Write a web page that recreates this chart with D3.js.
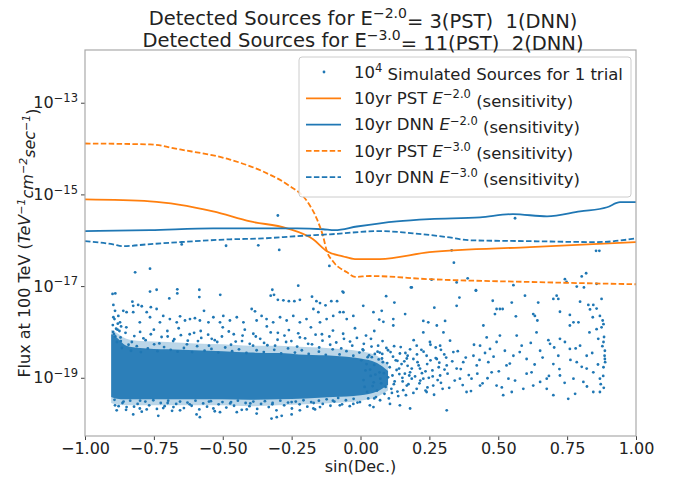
<!DOCTYPE html>
<html>
<head>
<meta charset="utf-8">
<script src="https://cdn.jsdelivr.net/npm/d3@7"></script>
<style>
  body { margin: 0; background: #fff; }
  text { font-family: "DejaVu Sans", sans-serif; fill: #222; }
</style>
</head>
<body>
<svg id="chart" width="684" height="481"></svg>
<script>
// sensitivity curves: sin(Dec.) and log10(flux)
var pst2X = [-1.0, -0.764, -0.535, -0.40, -0.267, -0.172, -0.122, -0.064, -0.02, 0.07, 0.25, 0.615, 1.0];
var pst2Y = [-15.11, -15.15, -15.37, -15.59, -15.74, -15.98, -16.24, -16.35, -16.41, -16.41, -16.26, -16.15, -16.04];

var pst3X = [-1.0, -0.764, -0.655, -0.474, -0.354, -0.267, -0.194, -0.158, -0.136, -0.122, -0.10, -0.049, -0.02, 0.034, 0.252, 0.615, 1.0];
var pst3Y = [-13.89, -13.91, -14.02, -14.24, -14.50, -14.78, -15.15, -15.54, -15.91, -16.24, -16.46, -16.70, -16.80, -16.78, -16.85, -16.91, -16.96];

var dnn2X = [-1.0, -0.764, -0.535, -0.354, -0.23, -0.136, -0.093, -0.013, 0.071, 0.132, 0.252, 0.434, 0.553, 0.677, 0.797, 0.895, 0.942, 1.0];
var dnn2Y = [-15.80, -15.78, -15.74, -15.74, -15.74, -15.76, -15.78, -15.70, -15.63, -15.59, -15.54, -15.50, -15.43, -15.48, -15.37, -15.28, -15.17, -15.17];

var dnn3X = [-1.0, -0.898, -0.862, -0.775, -0.655, -0.474, -0.354, -0.23, -0.111, 0.071, 0.191, 0.314, 0.397, 0.615, 0.858, 1.0];
var dnn3Y = [-16.02, -16.09, -16.13, -16.09, -16.04, -15.98, -15.96, -15.91, -15.87, -15.80, -15.85, -15.93, -16.00, -16.02, -16.04, -15.96];

// dense core of the simulated sources (log10 flux band), inner and outer density
var coreX = [-0.905, -0.89, -0.85, -0.8, -0.7, -0.6, -0.5, -0.4, -0.3, -0.2, -0.1, 0.0, 0.06, 0.1];
var coreTop = [-18.05, -18.1, -18.3, -18.35, -18.38, -18.4, -18.42, -18.45, -18.46, -18.5, -18.52, -18.58, -18.68, -18.85];
var coreBottom = [-19.42, -19.45, -19.47, -19.47, -19.47, -19.47, -19.47, -19.48, -19.47, -19.45, -19.42, -19.38, -19.3, -19.15];
var outerTop = [-17.95, -18.0, -18.15, -18.2, -18.22, -18.25, -18.27, -18.3, -18.3, -18.33, -18.36, -18.42, -18.52, -18.7];
var outerBottom = [-19.55, -19.58, -19.6, -19.6, -19.6, -19.6, -19.6, -19.62, -19.6, -19.58, -19.55, -19.5, -19.42, -19.28];

// individual simulated sources [sin(Dec.), log10 flux]
var sources = [
  [-0.30,-15.46],[-0.649,-16.09],[-0.488,-16.12],[-0.371,-16.11],[-0.295,-16.21],[-0.818,-16.70],[-0.764,-16.62],[-0.113,-16.56],[-0.065,-17.12],[-0.226,-16.99],
  [-0.764,-17.12],[-0.74,-17.08],[-0.665,-17.07],[-0.665,-17.16],[-0.585,-17.08],[-0.585,-17.24],[-0.694,-17.27],[-0.509,-17.19],[-0.32,-17.08],[-0.326,-17.21],
  [-0.314,-17.19],[-0.30,-17.30],[-0.28,-17.31],[-0.26,-17.33],[-0.24,-17.33],[-0.22,-17.30],[-0.176,-17.23],[-0.16,-17.33],[-0.147,-17.37],[-0.127,-17.42],
  [-0.106,-17.33],[-0.085,-17.33],[-0.90,-17.17],[-0.89,-17.16],
  [0.561,-15.52],[0.331,-16.22],[0.339,-16.49],[0.855,-16.23],[0.867,-16.23],[0.186,-17.03],[0.258,-16.86],[0.349,-16.92],[0.389,-16.83],[0.419,-17.09],
  [0.555,-16.98],[0.742,-16.85],[0.748,-16.91],[0.785,-17.01],[0.811,-17.03],[0.803,-16.79],[0.819,-16.72],[0.857,-16.95],[0.093,-17.22],
  [-0.062,-17.14],[-0.062,-17.57],[0.010,-17.43],[0.047,-17.57],[0.123,-17.36],[0.183,-17.03],[0.077,-17.54],[0.162,-17.61],[0.068,-17.73],[0.083,-17.78],
  [0.119,-17.72],[0.119,-17.86],[0.228,-17.76],[0.246,-17.79],[0.268,-17.47],[0.349,-17.43],[0.359,-17.25],[0.307,-17.76],[0.277,-17.86],[0.419,-17.10],
  [0.480,-17.32],[0.494,-17.50],[0.506,-17.50],[0.516,-17.50],[0.488,-17.61],[0.549,-17.36],[0.597,-17.21],[0.564,-17.66],[0.627,-17.61],[0.633,-17.65],
  [0.642,-17.75],[0.645,-17.36],[0.700,-17.28],[0.712,-17.21],[0.718,-17.28],[0.724,-17.56],[0.797,-17.34],[0.827,-17.41],[0.845,-17.41],[0.875,-17.28],
  [0.833,-17.51],[0.857,-17.49],[0.760,-17.63],[0.760,-17.86],[0.773,-17.79],[0.791,-17.79],[0.869,-17.65],[0.879,-17.75],[0.882,-17.83],[0.875,-17.90],
  [0.843,-17.68],[0.857,-17.94],
  [0.639,-18.01],[0.682,-18.18],[0.688,-18.26],[0.652,-18.41],[0.700,-18.70],[0.724,-18.95],[0.700,-19.38],[0.773,-19.02],[0.785,-18.66],[0.821,-18.52],
  [0.797,-18.30],[0.831,-18.01],[0.863,-18.15],[0.882,-18.22],[0.887,-18.41],[0.887,-18.59],[0.882,-18.77],[0.869,-19.02],[0.869,-19.31],[0.845,-18.88],
  [0.821,-18.80],[0.809,-19.09],[0.779,-19.35],[0.760,-18.37],[0.742,-18.22],[0.724,-18.15],[0.718,-18.52],[0.676,-19.02],[0.652,-19.09],[0.621,-18.88],
  [0.603,-18.59],[0.585,-18.30],[0.567,-18.08],[0.555,-18.52],[0.530,-18.73],[0.537,-19.02],[0.549,-19.31],[0.518,-19.38],[0.494,-19.17],[0.476,-18.88],
  [0.464,-18.66],[0.470,-18.37],[0.494,-18.22],[0.506,-18.08],[0.458,-18.12],[0.446,-17.86],[0.434,-18.30],[0.410,-18.52],[0.422,-18.73],[0.403,-19.02],
  [0.434,-19.17],[0.385,-19.31],[0.361,-19.02],[0.349,-18.80],[0.373,-18.66],[0.337,-18.44],[0.325,-18.19],[0.301,-18.01],[0.289,-18.30],[0.277,-18.59],
  [0.313,-18.73],[0.289,-18.95],[0.264,-19.17],[0.240,-19.31],[0.228,-19.02],[0.216,-18.80],[0.240,-18.52],[0.252,-18.22],[0.228,-18.01],[0.204,-18.30],
  [0.192,-18.59],[0.180,-18.88],[0.168,-19.17],[0.204,-19.24],[0.180,-19.67],[0.313,-19.71],[0.143,-19.60],[0.107,-19.57],[0.071,-19.49],[0.034,-19.60],
  [-0.002,-19.53],[0.047,-19.64],[0.591,-19.24],[0.627,-19.17],[0.676,-19.24],[0.754,-19.46],[0.845,-19.31],
  [0.122,-18.31],[0.134,-18.63],[0.141,-18.92],[0.153,-19.08],[0.114,-19.33],[0.163,-18.46],[0.171,-18.74],[0.186,-19.02],[0.193,-18.18],[0.207,-18.66],
  [0.214,-19.12],[0.221,-18.39],[0.236,-18.86],[0.243,-19.21],[0.254,-18.62],[0.262,-18.97],[0.273,-18.34],[0.284,-18.77],[0.292,-19.11],[0.304,-18.49],
  [0.316,-18.91],[0.322,-19.22],[0.333,-18.64],[0.342,-19.06],[0.353,-18.42],[0.364,-18.81],[0.371,-19.16],[0.382,-18.56],[0.393,-18.94],[0.401,-19.29],
  [0.412,-18.28],[0.424,-18.91],[0.432,-18.61],[0.443,-19.12],[0.452,-18.46],[0.461,-19.01],[0.483,-18.54],[0.502,-18.86],[0.513,-19.21],[0.524,-18.41],
  [0.542,-18.69],[0.561,-19.06],[0.578,-18.44],[0.603,-18.91],[0.618,-18.24],[0.632,-18.71],[0.661,-18.56],[0.684,-18.96],[0.703,-18.34],[0.722,-18.81],
  [0.741,-19.11],[0.762,-18.61],[0.781,-18.36],[0.803,-18.76],[0.822,-19.19],[0.841,-18.46],[0.862,-18.71],[0.878,-18.31],[0.881,-18.96],[0.886,-18.52],
  [0.872,-19.14],[0.884,-18.11],[0.888,-18.66],[0.883,-19.22],
  [-0.897,-17.41],[-0.891,-17.54],[-0.897,-17.68],[-0.879,-17.65],[-0.861,-17.54],[-0.849,-17.57],[-0.873,-17.79],[-0.828,-17.34],[-0.825,-17.43],[-0.807,-17.41],
  [-0.794,-17.44],[-0.825,-17.57],[-0.776,-17.57],[-0.761,-17.46],[-0.764,-17.68],[-0.801,-17.79],[-0.740,-17.50],[-0.716,-17.65],[-0.728,-17.79],[-0.692,-17.72],
  [-0.667,-17.79],[-0.655,-17.66],[-0.637,-17.75],[-0.619,-17.72],[-0.601,-17.70],[-0.583,-17.75],[-0.568,-17.54],[-0.552,-17.79],[-0.534,-17.68],[-0.510,-17.79],
  [-0.498,-17.65],[-0.474,-17.75],[-0.449,-17.68],[-0.425,-17.79],[-0.395,-17.50],[-0.383,-17.55],[-0.377,-17.75],[-0.359,-17.65],[-0.341,-17.72],[-0.317,-17.79],
  [-0.292,-17.68],[-0.268,-17.75],[-0.244,-17.65],[-0.220,-17.79],[-0.196,-17.72],[-0.171,-17.50],[-0.153,-17.57],[-0.147,-17.79],[-0.123,-17.72],[-0.099,-17.65],
  [-0.075,-17.57],[-0.050,-17.72],[-0.026,-17.65],
  [-0.85,-17.9],[-0.80,-18.0],[-0.75,-17.95],[-0.70,-18.1],[-0.66,-17.92],[-0.62,-18.05],[-0.58,-17.98],[-0.54,-18.15],[-0.50,-17.9],[-0.46,-18.05],
  [-0.42,-17.95],[-0.38,-18.1],[-0.34,-17.88],[-0.30,-18.02],[-0.26,-17.96],[-0.22,-18.12],[-0.18,-17.9],[-0.14,-18.05],[-0.10,-17.97],[-0.06,-18.15],
  [-0.02,-17.92],[0.02,-18.08],[0.05,-17.98],[0.08,-18.2],
  [-0.87,-18.2],[-0.83,-18.22],[-0.78,-18.18],[-0.73,-18.25],[-0.68,-18.2],[-0.63,-18.27],[-0.59,-18.2],[-0.55,-18.3],[-0.52,-18.22],[-0.47,-18.28],
  [-0.43,-18.2],[-0.39,-18.3],[-0.35,-18.24],[-0.31,-18.3],[-0.27,-18.22],[-0.23,-18.32],[-0.19,-18.26],[-0.15,-18.34],[-0.11,-18.28],[-0.07,-18.36],
  [-0.03,-18.3],[0.01,-18.4],[0.04,-18.32],[0.07,-18.45],[0.10,-18.4],
  [-0.891,-19.60],[-0.885,-19.71],[-0.825,-19.80],[-0.734,-19.83],[-0.801,-19.67],[-0.776,-19.69],[-0.679,-19.64],[-0.595,-19.80],[-0.583,-19.86],[-0.655,-19.71],
  [-0.510,-19.75],[-0.449,-19.75],[-0.377,-19.78],[-0.323,-19.89],[-0.304,-19.86],[-0.286,-19.83],[-0.250,-19.80],[-0.220,-19.71],[-0.171,-19.67],[-0.147,-19.64],
  [-0.075,-19.60],[-0.026,-19.57],[-0.849,-19.64],[-0.716,-19.66],[-0.534,-19.67],[-0.413,-19.69],
  [-0.86,-19.52],[-0.7,-19.55],[-0.55,-19.52],[-0.4,-19.56],[-0.25,-19.53],[-0.1,-19.5],[0.05,-19.45],[-0.8,-19.5],[-0.62,-19.58],[-0.47,-19.53],
  [-0.32,-19.58],[-0.17,-19.55],
  // fringe above the dense core
  [-0.895,-18.05],[-0.882,-17.95],[-0.871,-18.12],[-0.866,-18.35],[-0.853,-18.02],[-0.842,-18.28],[-0.833,-18.41],[-0.821,-18.09],[-0.812,-18.31],[-0.797,-18.44],
  [-0.788,-18.14],[-0.772,-18.36],[-0.761,-18.05],[-0.749,-18.27],[-0.737,-18.42],[-0.722,-18.11],[-0.713,-18.33],[-0.701,-17.98],[-0.689,-18.39],[-0.676,-18.16],
  [-0.664,-18.43],[-0.652,-18.07],[-0.641,-18.35],[-0.627,-18.19],[-0.611,-18.44],[-0.604,-18.02],[-0.593,-18.31],[-0.578,-18.13],[-0.566,-18.41],[-0.553,-18.06],
  [-0.541,-18.37],[-0.529,-18.18],[-0.516,-18.45],[-0.503,-18.1],[-0.491,-18.34],[-0.478,-17.99],[-0.466,-18.42],[-0.453,-18.21],[-0.441,-18.38],[-0.428,-18.08],
  [-0.414,-18.46],[-0.402,-18.26],[-0.389,-18.04],[-0.377,-18.4],[-0.364,-18.15],[-0.351,-18.44],[-0.338,-18.29],[-0.326,-18.01],[-0.313,-18.39],[-0.301,-18.17],
  [-0.288,-18.47],[-0.276,-18.08],[-0.263,-18.36],[-0.251,-18.2],[-0.238,-18.45],[-0.226,-18.03],[-0.213,-18.4],[-0.201,-18.14],[-0.188,-18.48],[-0.176,-18.27],
  [-0.163,-18.06],[-0.151,-18.43],[-0.138,-18.19],[-0.126,-18.5],[-0.113,-18.1],[-0.101,-18.38],[-0.088,-18.23],[-0.076,-18.49],[-0.063,-18.04],[-0.051,-18.42],
  [-0.038,-18.21],[-0.026,-18.52],[-0.013,-18.13],[-0.004,-18.45],[0.012,-18.26],[0.026,-18.55],[0.038,-18.15],[0.052,-18.48],[0.064,-18.3],[0.078,-18.58],
  [-0.899,-17.85],[-0.893,-17.72],[-0.887,-17.93],[-0.881,-17.82],[-0.875,-17.98],[-0.869,-17.88],[-0.898,-18.0],[-0.89,-18.1],[-0.884,-18.22],
  // fringe below the dense core
  [-0.893,-19.48],[-0.878,-19.62],[-0.864,-19.55],[-0.851,-19.7],[-0.836,-19.5],[-0.822,-19.63],[-0.809,-19.57],[-0.794,-19.74],[-0.781,-19.52],[-0.767,-19.6],
  [-0.752,-19.49],[-0.739,-19.68],[-0.725,-19.55],[-0.711,-19.62],[-0.698,-19.5],[-0.684,-19.72],[-0.669,-19.57],[-0.655,-19.52],[-0.641,-19.66],[-0.628,-19.54],
  [-0.613,-19.61],[-0.599,-19.5],[-0.585,-19.69],[-0.571,-19.56],[-0.557,-19.63],[-0.543,-19.51],[-0.529,-19.73],[-0.515,-19.58],[-0.501,-19.53],[-0.487,-19.65],
  [-0.473,-19.56],[-0.459,-19.61],[-0.445,-19.5],[-0.431,-19.7],[-0.417,-19.55],[-0.403,-19.62],[-0.389,-19.52],[-0.375,-19.68],[-0.361,-19.57],[-0.347,-19.51],
  [-0.333,-19.64],[-0.319,-19.55],[-0.305,-19.71],[-0.291,-19.5],[-0.277,-19.6],[-0.263,-19.54],[-0.249,-19.67],[-0.235,-19.52],[-0.221,-19.58],[-0.207,-19.49],
  [-0.193,-19.63],[-0.179,-19.53],[-0.165,-19.69],[-0.151,-19.5],[-0.137,-19.57],[-0.123,-19.47],[-0.109,-19.61],[-0.095,-19.52],[-0.081,-19.44],[-0.067,-19.58],
  [-0.053,-19.49],[-0.039,-19.62],[-0.025,-19.46],[-0.011,-19.54],
  // tapering blob just north of the equator
  [0.003,-18.62],[0.011,-19.05],[0.018,-18.84],[0.024,-19.31],[0.031,-18.51],[0.037,-18.96],[0.044,-19.18],[0.05,-18.72],[0.056,-19.42],[0.062,-18.43],
  [0.069,-18.88],[0.075,-19.12],[0.081,-18.66],[0.087,-19.35],[0.094,-18.35],[0.1,-18.99],[0.106,-18.77],[0.112,-19.24],[0.118,-18.54],[0.124,-19.08],
  [0.131,-18.83],[0.137,-19.4],[0.143,-18.47],[0.149,-18.7],[0.155,-19.27],[0.161,-18.91],[0.168,-18.58],[0.174,-19.14],[0.18,-18.38],[0.186,-18.8],
  [0.192,-19.33],[0.198,-18.97],[0.205,-18.49],[0.211,-18.73],[0.217,-19.06],[0.223,-18.9],[0.229,-18.43],[0.236,-19.28],[0.242,-18.7],[0.248,-19.0],
  [0.254,-18.28],[0.261,-18.84],[0.267,-19.37],[0.273,-18.57],[0.28,-19.05],[0.286,-18.67],[0.292,-18.39],[0.298,-19.24],[0.305,-18.82],[0.311,-18.56],
  [0.008,-18.38],[0.015,-19.2],[0.022,-18.7],[0.028,-19.45],[0.035,-18.82],[0.041,-18.55],[0.048,-19.1],[0.054,-18.93],[0.06,-19.28],[0.066,-18.6],
  [0.072,-19.02],[0.079,-18.48],[0.085,-18.9],[0.091,-19.2],[0.097,-18.68],[0.103,-19.45],[0.109,-18.44],[0.116,-18.95],[0.121,-19.14],[0.128,-18.62],
  [0.134,-19.3],[0.14,-18.8],[0.146,-18.33],[0.152,-19.0],[0.159,-18.64],[0.165,-19.38],[0.171,-18.52],[0.177,-18.95]
];

var xTicks = [-1.0, -0.75, -0.5, -0.25, 0.0, 0.25, 0.5, 0.75, 1.0];
var yTickExps = [-19, -17, -15, -13];

var legendItems = [
  {label: "Simulated Sources for 1 trial", kind: "dot"},
  {label: "10yr PST", exp: "\u22122.0", color: "#ff7f0e", dash: null},
  {label: "10yr DNN", exp: "\u22122.0", color: "#1f77b4", dash: null},
  {label: "10yr PST", exp: "\u22123.0", color: "#ff7f0e", dash: "5.5,2.4"},
  {label: "10yr DNN", exp: "\u22123.0", color: "#1f77b4", dash: "5.5,2.4"}
];

var svg = d3.select("#chart");
var mLeft = 85, mRight = 636, mTop = 50, mBottom = 436;

var x = d3.scaleLinear().domain([-1, 1]).range([mLeft, mRight]);
var y = d3.scaleLog().domain([Math.pow(10, -20.27), Math.pow(10, -11.85)]).range([mBottom, mTop]);
var pw = function(e) { return Math.pow(10, e); };

svg.append("defs").append("clipPath").attr("id", "clip")
  .append("rect").attr("x", mLeft).attr("y", mTop).attr("width", mRight - mLeft).attr("height", mBottom - mTop);

var layer = svg.append("g").attr("clip-path", "url(#clip)");

// core bands: outer (lighter) then inner (dense)
function band(tops, bottoms, opacity) {
  var rows = coreX.map(function(d, i) { return {x: d, t: tops[i], b: bottoms[i]}; });
  layer.append("path")
    .datum(rows)
    .attr("fill", "#1f77b4")
    .attr("fill-opacity", opacity)
    .attr("d", d3.area().curve(d3.curveMonotoneX)
      .x(function(d) { return x(d.x); })
      .y0(function(d) { return y(pw(d.b)); })
      .y1(function(d) { return y(pw(d.t)); }));
}
band(outerTop, outerBottom, 0.3);
band(coreTop, coreBottom, 0.92);

layer.selectAll("circle.src").data(sources).enter().append("circle")
  .attr("class", "src")
  .attr("cx", function(d) { return x(d[0]); })
  .attr("cy", function(d) { return y(pw(d[1])); })
  .attr("r", 1.4)
  .attr("fill", "#1f77b4");

function curve(xs, ys, color, dash) {
  var pts = xs.map(function(d, i) { return [d, ys[i]]; });
  layer.append("path")
    .datum(pts)
    .attr("fill", "none")
    .attr("stroke", color)
    .attr("stroke-width", 1.8)
    .attr("stroke-dasharray", dash)
    .attr("d", d3.line().curve(d3.curveMonotoneX)
      .x(function(d) { return x(d[0]); })
      .y(function(d) { return y(pw(d[1])); }));
}
curve(pst2X, pst2Y, "#ff7f0e", null);
curve(dnn2X, dnn2Y, "#1f77b4", null);
curve(pst3X, pst3Y, "#ff7f0e", "5.5,2.4");
curve(dnn3X, dnn3Y, "#1f77b4", "5.5,2.4");

// axes
var xAxis = svg.append("g").attr("transform", "translate(0," + mBottom + ")")
  .call(d3.axisBottom(x).tickValues(xTicks).tickSize(4).tickPadding(3)
    .tickFormat(function(d) { return d3.format(".2f")(d).replace("-", "\u2212"); }));
xAxis.selectAll("text").style("font-size", "16px").style("font-family", "DejaVu Sans").attr("fill", "#222");

var yAxis = svg.append("g").attr("transform", "translate(" + mLeft + ",0)")
  .call(d3.axisLeft(y).tickValues(yTickExps.map(pw)).tickSize(4).tickPadding(4).tickFormat(""));
yAxis.selectAll(".tick").each(function(d) {
  var e = Math.round(Math.log10(d));
  var t = d3.select(this).append("text").attr("x", -7).attr("dy", "0.32em")
    .attr("text-anchor", "end").style("font-size", "16px").attr("fill", "#222");
  t.append("tspan").text("10");
  t.append("tspan").attr("dy", "-0.55em").style("font-size", "11.5px").text("\u2212" + Math.abs(e));
});
svg.selectAll(".domain").remove();
svg.selectAll(".tick line").attr("stroke", "#444");

svg.append("rect").attr("x", mLeft).attr("y", mTop).attr("width", mRight - mLeft).attr("height", mBottom - mTop)
  .attr("fill", "none").attr("stroke", "#aaa").attr("stroke-width", 1.2);

// labels
svg.append("text").attr("x", (mLeft + mRight) / 2).attr("y", 472).attr("text-anchor", "middle")
  .style("font-size", "16px").text("sin(Dec.)");

var yl = svg.append("text").attr("transform", "translate(30," + ((mTop + mBottom) / 2) + ") rotate(-90)")
  .attr("text-anchor", "middle").style("font-size", "16px");
yl.append("tspan").text("Flux at 100 TeV (");
yl.append("tspan").style("font-style", "italic").text("TeV");
yl.append("tspan").attr("dy", "-0.5em").style("font-size", "11px").style("font-style", "italic").text("\u22121");
yl.append("tspan").attr("dy", "0.5em").style("font-style", "italic").text("cm");
yl.append("tspan").attr("dy", "-0.5em").style("font-size", "11px").style("font-style", "italic").text("\u22122");
yl.append("tspan").attr("dy", "0.5em").style("font-style", "italic").text("sec");
yl.append("tspan").attr("dy", "-0.5em").style("font-size", "11px").style("font-style", "italic").text("\u22121");
yl.append("tspan").attr("dy", "0.5em").text(")");

// title
var titles = [["\u22122.0", "= 3(PST)  1(DNN)"], ["\u22123.0", "= 11(PST)  2(DNN)"]];
titles.forEach(function(t, i) {
  var tt = svg.append("text").attr("x", 363).attr("y", 25 + i * 22).attr("text-anchor", "middle")
    .style("font-size", "19.5px").attr("xml:space", "preserve");
  tt.append("tspan").text("Detected Sources for E");
  tt.append("tspan").attr("dy", "-0.5em").style("font-size", "14px").text(t[0]);
  tt.append("tspan").attr("dy", "0.5em").text(t[1]);
});

// legend
var lg = svg.append("g");
lg.append("rect").attr("x", 299).attr("y", 57).attr("width", 332).attr("height", 140).attr("rx", 3)
  .attr("fill", "#fff").attr("fill-opacity", 0.85).attr("stroke", "#ccc");
legendItems.forEach(function(d, i) {
  var cy = 72 + i * 26.3;
  if (d.kind === "dot") {
    lg.append("circle").attr("cx", 324).attr("cy", cy).attr("r", 1.4).attr("fill", "#1f77b4");
  } else {
    lg.append("line").attr("x1", 306).attr("x2", 341).attr("y1", cy).attr("y2", cy)
      .attr("stroke", d.color).attr("stroke-width", 1.8).attr("stroke-dasharray", d.dash);
  }
  var t = lg.append("text").attr("x", 354).attr("y", cy).attr("dy", "0.35em").style("font-size", "16.5px")
    .attr("xml:space", "preserve");
  if (d.kind === "dot") {
    t.append("tspan").text("10");
    t.append("tspan").attr("dy", "-0.5em").style("font-size", "11.5px").text("4");
    t.append("tspan").attr("dy", "0.5em").text(" " + d.label);
  } else {
    t.append("tspan").text(d.label + " ");
    t.append("tspan").style("font-style", "italic").text("E");
    t.append("tspan").attr("dy", "-0.5em").style("font-size", "11.5px").text(d.exp);
    t.append("tspan").attr("dy", "0.5em").text(" (sensitivity)");
  }
});
</script>
</body>
</html>
